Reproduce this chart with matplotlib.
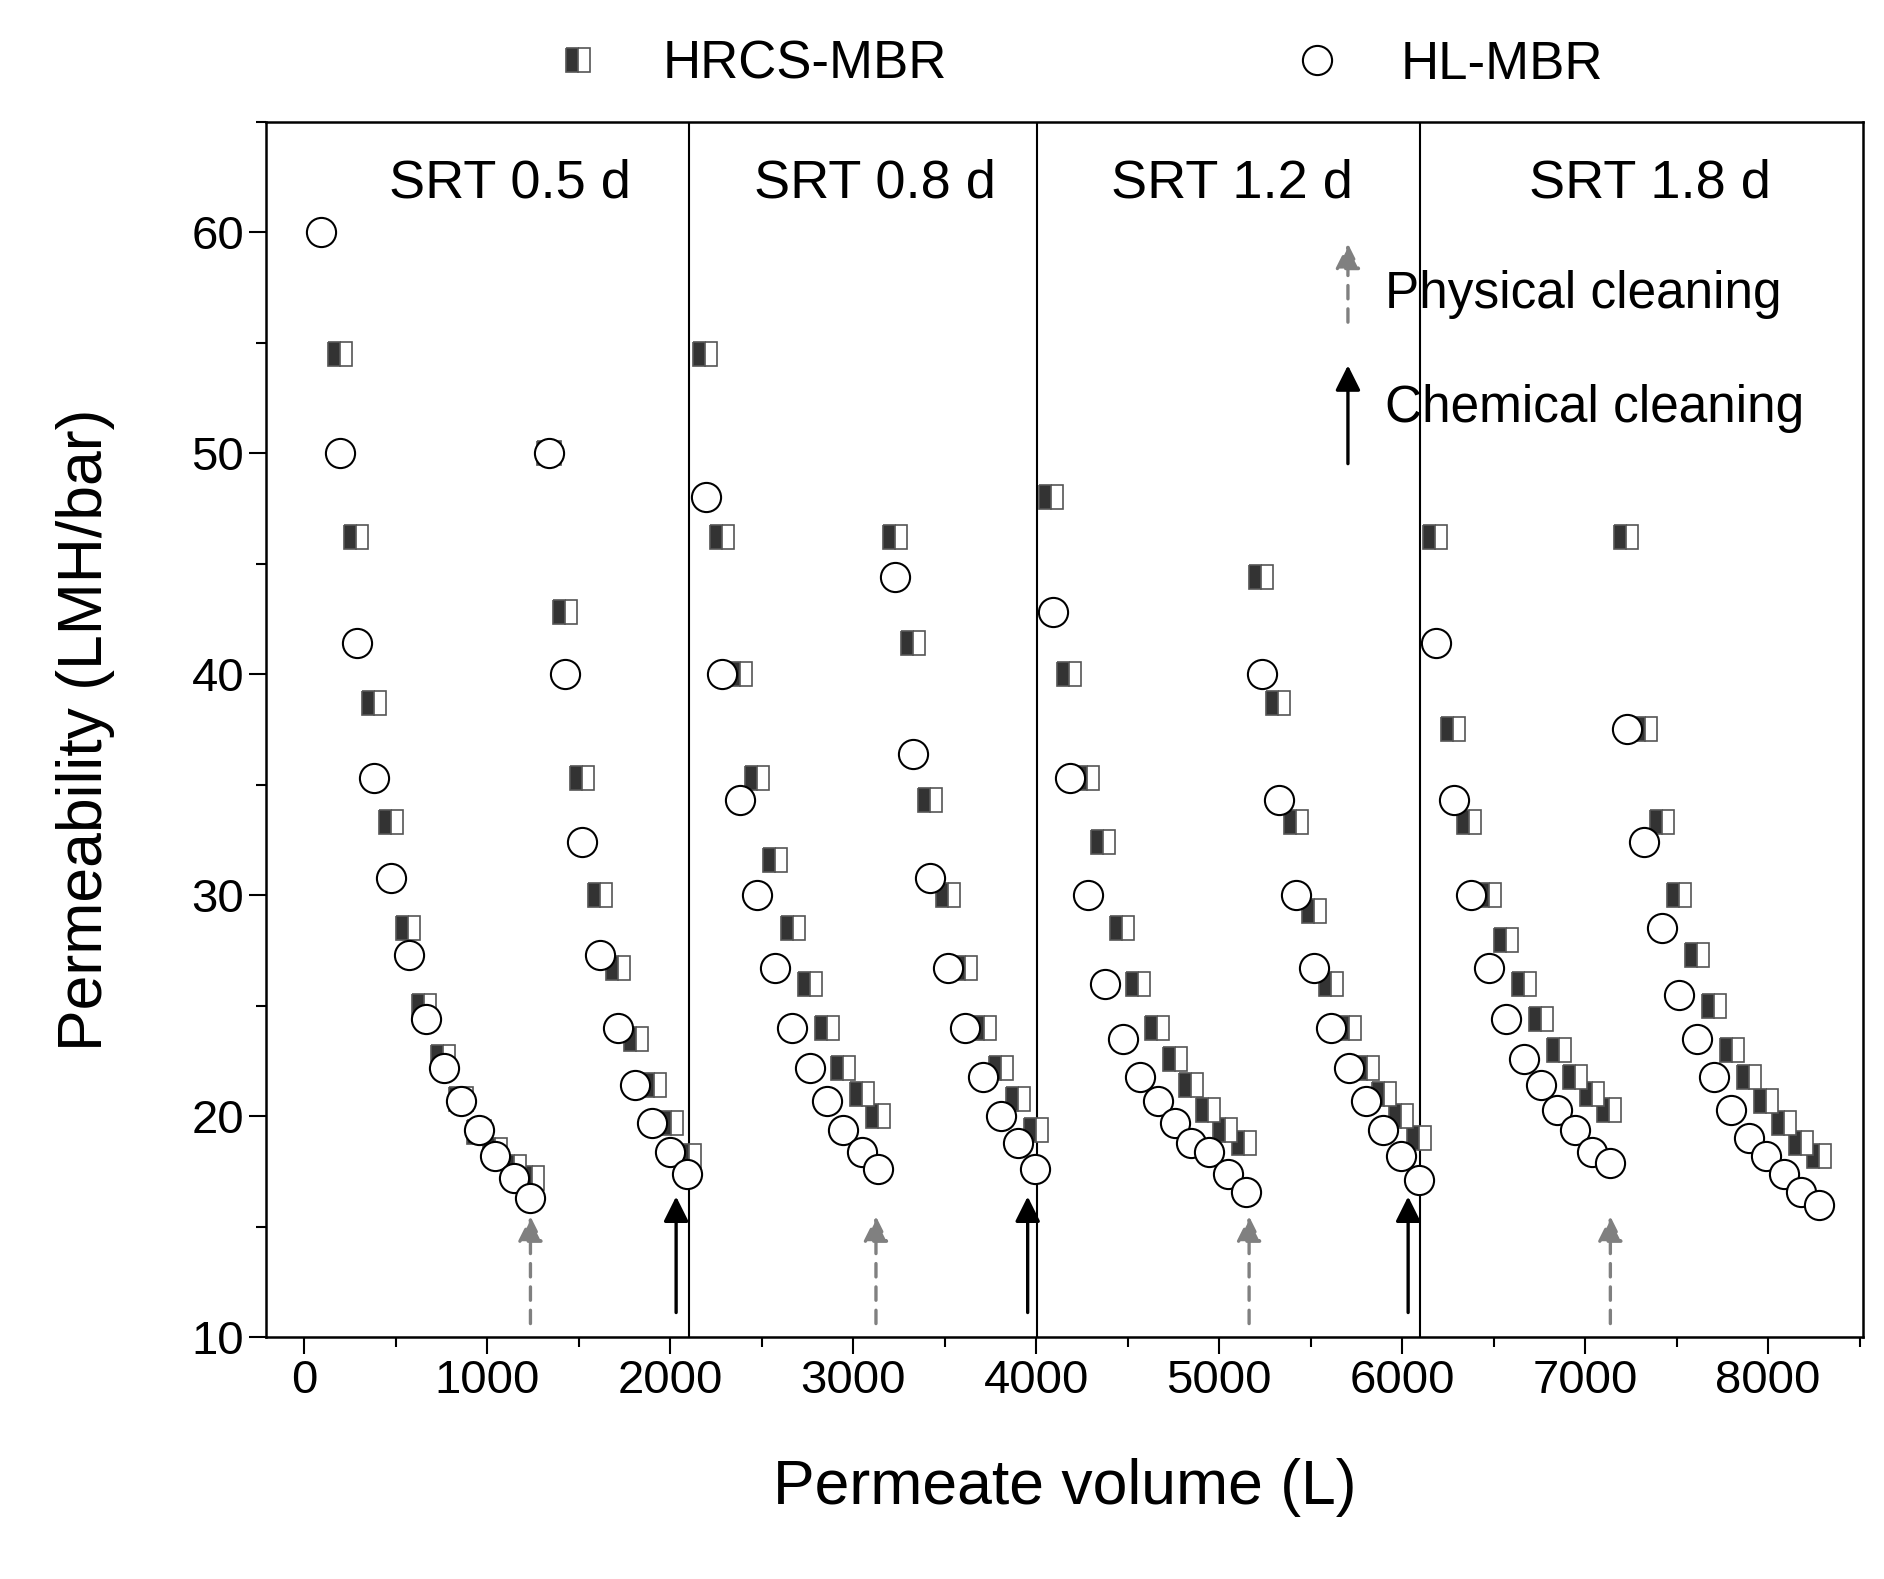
import matplotlib
matplotlib.use("Agg")
import matplotlib.pyplot as plt
from matplotlib.ticker import MultipleLocator

plt.rcParams['font.family'] = ['Liberation Sans', 'DejaVu Sans']

hrcs_v = [197,283,382,474,566,658,757,855,954,1046,1145,1243,
          1336,1428,1520,1618,1717,1816,1914,2007,2105,
          2191,2283,2382,2474,2572,2671,2763,2855,2947,3046,3138,
          3230,3329,3421,3520,3612,3717,3809,3901,4000,
          4079,4178,4276,4368,4467,4559,4658,4757,4849,4941,5033,5138,
          5230,5322,5421,5520,5612,5711,5809,5901,5993,6092,
          6178,6276,6368,6474,6566,6664,6757,6855,6947,7039,7132,
          7224,7329,7421,7513,7612,7704,7803,7895,7987,8086,8178,8276]
hrcs_p = [54.5,46.2,38.7,33.3,28.5,25,22.7,20.8,19.3,18.5,17.7,17.2,
          50,42.8,35.3,30,26.7,23.5,21.4,19.7,18.2,
          54.5,46.2,40,35.3,31.6,28.5,26,24,22.2,21,20,
          46.2,41.4,34.3,30,26.7,24,22.2,20.8,19.4,
          48,40,35.3,32.4,28.5,26,24,22.6,21.4,20.3,19.4,18.8,
          44.4,38.7,33.3,29.3,26,24,22.2,21,20,19,
          46.2,37.5,33.3,30,28,26,24.4,23,21.8,21,20.3,
          46.2,37.5,33.3,30,27.3,25,23,21.8,20.7,19.7,18.8,18.2]
hl_v = [92,197,289,382,474,572,664,763,855,954,1046,1145,1237,
        1336,1428,1520,1618,1717,1809,1901,2000,2092,
        2197,2283,2382,2474,2572,2664,2763,2855,2947,3046,3138,
        3230,3329,3421,3520,3612,3711,3809,3901,3993,
        4092,4184,4283,4375,4474,4566,4664,4757,4849,4947,5046,5145,
        5237,5329,5421,5520,5612,5711,5803,5895,5993,6092,
        6184,6283,6375,6474,6566,6664,6757,6849,6947,7039,7138,
        7230,7322,7421,7513,7612,7704,7796,7895,7987,8086,8178,8276]
hl_p = [60,50,41.4,35.3,30.8,27.3,24.4,22.2,20.7,19.4,18.2,17.2,16.3,
        50,40,32.4,27.3,24,21.4,19.7,18.4,17.4,
        48,40,34.3,30,26.7,24,22.2,20.7,19.4,18.4,17.6,
        44.4,36.4,30.8,26.7,24,21.8,20,18.8,17.6,
        42.8,35.3,30,26,23.5,21.8,20.7,19.7,18.8,18.4,17.4,16.6,
        40,34.3,30,26.7,24,22.2,20.7,19.4,18.2,17.1,
        41.4,34.3,30,26.7,24.4,22.6,21.4,20.3,19.4,18.4,17.9,
        37.5,32.4,28.5,25.5,23.5,21.8,20.3,19,18.2,17.4,16.6,16]

srt_bounds = [2105, 4007, 6099]
srt_labels = ['SRT 0.5 d', 'SRT 0.8 d', 'SRT 1.2 d', 'SRT 1.8 d']
srt_label_x = [1125, 3120, 5070, 7355]
phys_x = [1237, 3125, 5164, 7138]
chem_x = [2033, 3954, 6033]

fig = plt.figure(figsize=(18.84, 15.79), dpi=100)
ax = fig.add_axes([0.141, 0.153, 0.848, 0.770])

ax.plot(hrcs_v, hrcs_p, ls='none', marker='s', ms=17, fillstyle='left',
        markerfacecolor='#333333', markerfacecoloralt='white',
        markeredgecolor='#555555', mew=1.2, label='HRCS-MBR', zorder=3)
ax.plot(hl_v, hl_p, ls='none', marker='o', ms=21, markerfacecolor='white',
        markeredgecolor='black', mew=1.5, label='HL-MBR', zorder=4)

for b in srt_bounds:
    ax.axvline(b, color='black', lw=1.5)
for t, x in zip(srt_labels, srt_label_x):
    ax.text(x, 62.2, t, fontsize=39, ha='center', va='center')

for x in phys_x:
    ax.annotate('', xy=(x, 15.6), xytext=(x, 10.5),
                arrowprops=dict(arrowstyle='-|>', color='#808080', lw=2.4,
                                ls=(0, (4, 3)), mutation_scale=38))
for x in chem_x:
    ax.annotate('', xy=(x, 16.5), xytext=(x, 11.0),
                arrowprops=dict(arrowstyle='-|>', color='black', lw=2.4,
                                mutation_scale=38))
ax.annotate('', xy=(5704, 59.6), xytext=(5704, 55.8),
            arrowprops=dict(arrowstyle='-|>', color='#808080', lw=2.4,
                            ls=(0, (4, 3)), mutation_scale=38))
ax.annotate('', xy=(5704, 54.1), xytext=(5704, 49.4),
            arrowprops=dict(arrowstyle='-|>', color='black', lw=2.4,
                            mutation_scale=38))
ax.text(5908, 57.2, 'Physical cleaning', fontsize=37, va='center')
ax.text(5908, 52.0, 'Chemical cleaning', fontsize=37, va='center')

ax.set_xlim(-210, 8520)
ax.set_ylim(10, 65)
ax.xaxis.set_major_locator(MultipleLocator(1000))
ax.xaxis.set_minor_locator(MultipleLocator(500))
ax.yaxis.set_major_locator(MultipleLocator(10))
ax.yaxis.set_minor_locator(MultipleLocator(5))
ax.tick_params(which='major', direction='out', length=12, width=1.5, labelsize=34)
ax.tick_params(which='minor', direction='out', length=7, width=1.5)
for s in ax.spines.values():
    s.set_linewidth(1.8)
ax.set_xlabel('Permeate volume (L)', fontsize=45, labelpad=40)
ax.set_ylabel('Permeability (LMH/bar)', fontsize=45, labelpad=55)

ax.legend(loc='lower center', bbox_to_anchor=(0.5, 1.0), ncol=2, frameon=False,
          fontsize=38, columnspacing=6, handletextpad=0.6, borderaxespad=0.2)

fig.savefig('out.png', dpi=100)
